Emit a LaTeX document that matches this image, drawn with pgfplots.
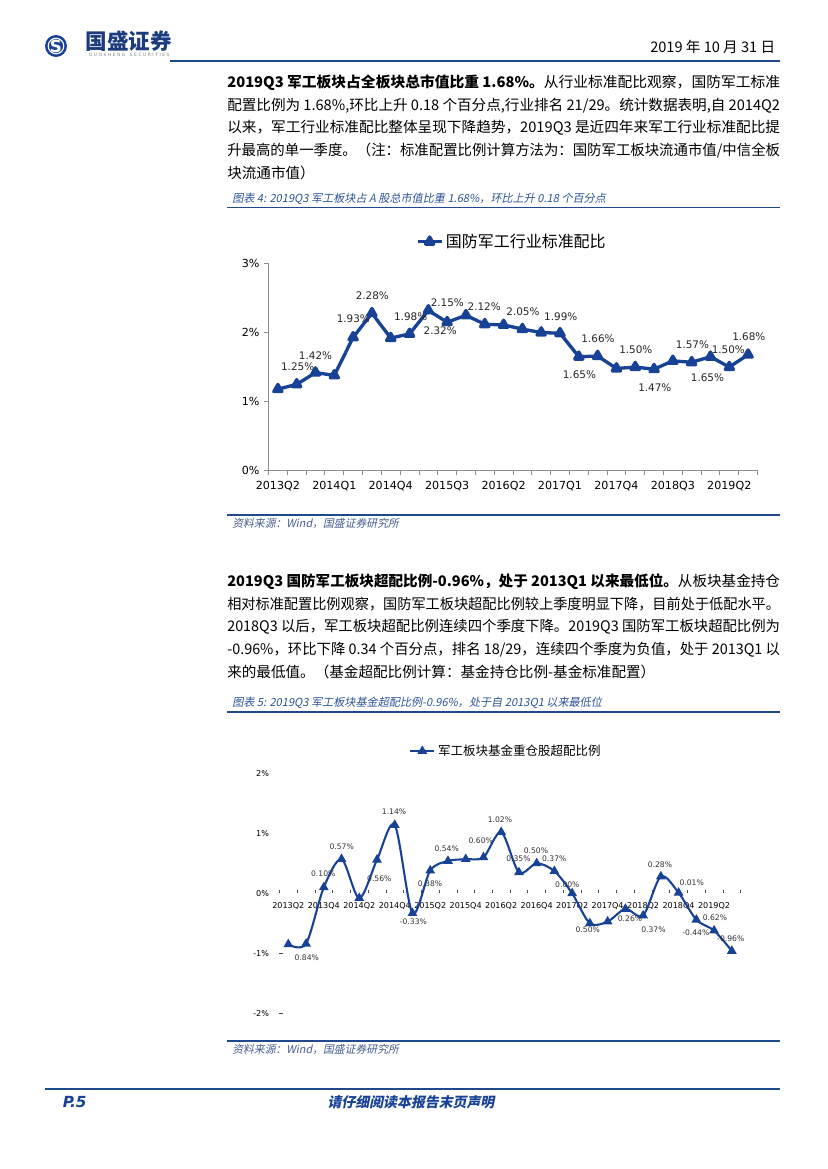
\documentclass[border=0pt]{standalone}
\usepackage{graphicx}
\usepackage{pgfplots}
\pgfplotsset{compat=1.18}
\usepackage{fontspec}
\setmainfont{Noto Sans CJK SC}
\newfontfamily\lat{DejaVu Sans}
\newfontfamily\capf[FakeSlant=0.2]{Noto Sans CJK SC}
\newfontfamily\footf[FakeSlant=0.2,BoldFeatures={FakeSlant=0.2}]{Noto Sans CJK SC}
\definecolor{navy}{RGB}{24,66,150}
\definecolor{rulec}{RGB}{31,73,140}
\definecolor{capc}{RGB}{46,84,150}
\definecolor{srcc}{RGB}{70,92,145}
\definecolor{logoc}{RGB}{28,60,125}
\newcommand{\bl}[1]{\resizebox{398pt}{\height}{#1}}
\newcommand{\bodyf}{\fontsize{10.5}{12}\selectfont}
\begin{document}
\begin{tikzpicture}
\useasboundingbox (0pt,0pt) rectangle (595.44pt,-841.68pt);
\fill[white] (0pt,0pt) rectangle (595.44pt,-841.68pt);
\begin{scope}[x=0.72pt,y=-0.72pt]
% header
\fill[navy] (56,46) circle (7.9pt);
\draw[white,line width=0.8pt] (56,46) circle (5.6pt);
\node[white,font=\lat\bfseries\fontsize{12}{12}\selectfont] at (56,46) {S};
\node[anchor=west,text=logoc,font=\bfseries\fontsize{15.5}{16}\selectfont] at (81,41) {国盛证券};
\node[anchor=west,text=gray,font=\lat\fontsize{3.2}{4}\selectfont] at (84,54.5) {\makebox[58pt][s]{G U O S H E N G \ \ S E C U R I T I E S}};
\node[anchor=east,font=\bodyf] at (780,47) {2019 年 10 月 31 日};
\draw[rulec,line width=1.8pt] (170,61) -- (780,61);
% paragraph 1
\node[anchor=west,inner sep=0pt,font=\bodyf] at (227,83) {\bl{{\bfseries 2019Q3 军工板块占全板块总市值比重 1.68\%。}从行业标准配比观察，国防军工标准}};
\node[anchor=west,inner sep=0pt,font=\bodyf] at (227,105.5) {\bl{配置比例为 1.68\%,环比上升 0.18 个百分点,行业排名 21/29。统计数据表明,自 2014Q2}};
\node[anchor=west,inner sep=0pt,font=\bodyf] at (227,128) {\bl{以来，军工行业标准配比整体呈现下降趋势，2019Q3 是近四年来军工行业标准配比提}};
\node[anchor=west,inner sep=0pt,font=\bodyf] at (227,150.5) {\bl{升最高的单一季度。（注：标准配置比例计算方法为：国防军工板块流通市值/中信全板}};
\node[anchor=west,inner sep=0pt,font=\bodyf] at (227,173) {块流通市值）};
% caption 4
\node[anchor=west,inner sep=0pt,text=capc,font=\capf\fontsize{8}{9}\selectfont] at (232,199) {图表 4: 2019Q3 军工板块占 A 股总市值比重 1.68\%，环比上升 0.18 个百分点};
\draw[rulec,line width=1.1pt] (227,207.5) -- (780,207.5);
\draw[rulec,line width=1.1pt] (227,515) -- (780,515);
\node[anchor=west,inner sep=0pt,text=srcc,font=\capf\fontsize{7.8}{9}\selectfont] at (232,523.5) {资料来源：Wind，国盛证券研究所};
% paragraph 2
\node[anchor=west,inner sep=0pt,font=\bodyf] at (227,582) {\bl{{\bfseries 2019Q3 国防军工板块超配比例-0.96\%，处于 2013Q1 以来最低位。}从板块基金持仓}};
\node[anchor=west,inner sep=0pt,font=\bodyf] at (227,604.5) {\bl{相对标准配置比例观察，国防军工板块超配比例较上季度明显下降，目前处于低配水平。}};
\node[anchor=west,inner sep=0pt,font=\bodyf] at (227,627) {\bl{2018Q3 以后，军工板块超配比例连续四个季度下降。2019Q3 国防军工板块超配比例为}};
\node[anchor=west,inner sep=0pt,font=\bodyf] at (227,649.5) {\bl{-0.96\%，环比下降 0.34 个百分点，排名 18/29，连续四个季度为负值，处于 2013Q1 以}};
\node[anchor=west,inner sep=0pt,font=\bodyf] at (227,672) {来的最低值。（基金超配比例计算：基金持仓比例-基金标准配置）};
% caption 5
\node[anchor=west,inner sep=0pt,text=capc,font=\capf\fontsize{8}{9}\selectfont] at (232,703) {图表 5: 2019Q3 军工板块基金超配比例-0.96\%，处于自 2013Q1 以来最低位};
\draw[rulec,line width=1.1pt] (227,712) -- (780,712);
\draw[rulec,line width=1.1pt] (227,1041) -- (780,1041);
\node[anchor=west,inner sep=0pt,text=srcc,font=\capf\fontsize{7.8}{9}\selectfont] at (232,1049.5) {资料来源：Wind，国盛证券研究所};
% footer
\draw[rulec,line width=1.8pt] (45,1089) -- (780,1089);
\node[anchor=west,text=navy,font=\lat\bfseries\itshape\fontsize{11}{12}\selectfont] at (58,1102) {P.5};
\node[text=navy,font=\footf\bfseries\fontsize{10}{12}\selectfont] at (411,1102) {请仔细阅读本报告末页声明};
\end{scope}

% ---------- chart 1 ----------
\begin{axis}[
 at={(193.3pt,-338.9pt)}, anchor=south west, scale only axis,
 width=352.1pt, height=149.2pt,
 xmin=-0.5, xmax=25.5, ymin=0, ymax=3,
 axis x line*=bottom, axis y line*=left,
 axis line style={black!45, line width=0.6pt},
 xtick={-0.5,0.5,...,25.5},
 xticklabels={2013Q2,,,2014Q1,,,2014Q4,,,2015Q3,,,2016Q2,,,2017Q1,,,2017Q4,,,2018Q3,,,2019Q2,,,},
 xticklabel style={xshift=6.77pt, yshift=-1pt},
 ytick={0,1,2,3}, yticklabels={0\%,1\%,2\%,3\%},
 tick align=outside, major tick length=3pt,
 tick style={black!45, line width=0.6pt},
 tick label style={font=\lat\fontsize{8}{9}\selectfont, text=black},
 clip=false,
 legend style={at={(0.4986,1.105)}, anchor=center, draw=none, fill=none, font=\fontsize{11.5}{12}\selectfont},
]
\addplot[color=navy, line width=2.4pt, line join=round, mark=triangle*, mark size=3.4pt, mark options={solid,fill=navy}] coordinates {
(0,1.18) (1,1.25) (2,1.42) (3,1.38) (4,1.93) (5,2.28) (6,1.92) (7,1.98) (8,2.32) (9,2.15) (10,2.25) (11,2.12) (12,2.11)
(13,2.05) (14,2.00) (15,1.99) (16,1.65) (17,1.66) (18,1.48) (19,1.50) (20,1.47) (21,1.59) (22,1.57) (23,1.65) (24,1.50) (25,1.68)};
\addlegendentry{国防军工行业标准配比}
\begin{scope}[every node/.style={font=\lat\fontsize{7.5}{8}\selectfont, text=black!85}]
\node at (axis cs:1.05,1.507) {1.25\%};
\node at (axis cs:2.0,1.66) {1.42\%};
\node at (axis cs:4.01,2.20) {1.93\%};
\node at (axis cs:5.02,2.53) {2.28\%};
\node at (axis cs:7.06,2.23) {1.98\%};
\node at (axis cs:8.63,2.02) {2.32\%};
\node at (axis cs:9.01,2.43) {2.15\%};
\node at (axis cs:10.97,2.37) {2.12\%};
\node at (axis cs:13.03,2.30) {2.05\%};
\node at (axis cs:15.04,2.23) {1.99\%};
\node at (axis cs:17.02,1.91) {1.66\%};
\node at (axis cs:16.03,1.39) {1.65\%};
\node at (axis cs:19.03,1.75) {1.50\%};
\node at (axis cs:20.04,1.20) {1.47\%};
\node at (axis cs:22.04,1.82) {1.57\%};
\node at (axis cs:22.84,1.34) {1.65\%};
\node at (axis cs:23.95,1.75) {1.50\%};
\node at (axis cs:25.04,1.94) {1.68\%};
\end{scope}
\end{axis}

% ---------- chart 2 ----------
\begin{axis}[
 at={(201.2pt,-729.6pt)}, anchor=south west, scale only axis,
 width=332.1pt, height=172.8pt,
 xmin=-0.5, xmax=25.5, ymin=-2, ymax=2,
 axis x line=middle, axis y line=left,
 axis line style={draw=none},
 hide obscured x ticks=false,
 xtick={0,2,...,24},
 xticklabels={2013Q2,2013Q4,2014Q2,2014Q4,2015Q2,2015Q4,2016Q2,2016Q4,2017Q2,2017Q4,2018Q2,2018Q4,2019Q2},
 minor xtick={-0.5,0.5,...,25.5},
 xticklabel style={yshift=-3pt, anchor=north},
 ytick={-2,-1,0,1,2}, yticklabels={-2\%,-1\%,0\%,1\%,2\%},
 minor ytick={-2,-1},
 yticklabel style={xshift=-4pt},
 tick align=inside, major tick length=0pt, minor tick length=2.4pt,
 tick style={black!70, line width=0.5pt},
 tick label style={font=\lat\fontsize{5.8}{7}\selectfont, text=black},
 clip=false,
 legend style={at={(0.492,1.093)}, anchor=center, draw=none, fill=none, font=\fontsize{9}{10}\selectfont},
]
\addplot[color=navy, line width=1.5pt, smooth, tension=0.5, mark=triangle*, mark size=2.6pt, mark options={solid,fill=navy}] coordinates {
(0,-0.85) (1,-0.84) (2,0.10) (3,0.57) (4,-0.08) (5,0.56) (6,1.14) (7,-0.33) (8,0.38) (9,0.54) (10,0.57) (11,0.60) (12,1.02)
(13,0.35) (14,0.50) (15,0.37) (16,0.00) (17,-0.50) (18,-0.47) (19,-0.26) (20,-0.37) (21,0.28) (22,0.01) (23,-0.44) (24,-0.62) (25,-0.96)};
\addlegendentry{军工板块基金重仓股超配比例}
\begin{scope}[every node/.style={font=\lat\fontsize{5.5}{6}\selectfont, text=black!80}]
\node at (axis cs:1.04,-1.07) {0.84\%};
\node at (axis cs:1.97,0.32) {0.10\%};
\node at (axis cs:3.01,0.78) {0.57\%};
\node at (axis cs:5.13,0.24) {0.56\%};
\node at (axis cs:5.96,1.36) {1.14\%};
\node at (axis cs:7.05,-0.47) {-0.33\%};
\node at (axis cs:7.99,0.155) {0.38\%};
\node at (axis cs:8.93,0.75) {0.54\%};
\node at (axis cs:10.85,0.87) {0.60\%};
\node at (axis cs:11.93,1.23) {1.02\%};
\node at (axis cs:12.97,0.57) {0.35\%};
\node at (axis cs:13.96,0.71) {0.50\%};
\node at (axis cs:14.99,0.58) {0.37\%};
\node at (axis cs:15.73,0.14) {0.00\%};
\node at (axis cs:16.88,-0.61) {0.50\%};
\node at (axis cs:19.26,-0.43) {0.26\%};
\node at (axis cs:20.58,-0.60) {0.37\%};
\node at (axis cs:20.95,0.48) {0.28\%};
\node at (axis cs:22.74,0.17) {0.01\%};
\node at (axis cs:22.97,-0.66) {-0.44\%};
\node at (axis cs:24.05,-0.41) {0.62\%};
\node at (axis cs:24.94,-0.76) {-0.96\%};
\end{scope}
\end{axis}
\end{tikzpicture}
\end{document}
